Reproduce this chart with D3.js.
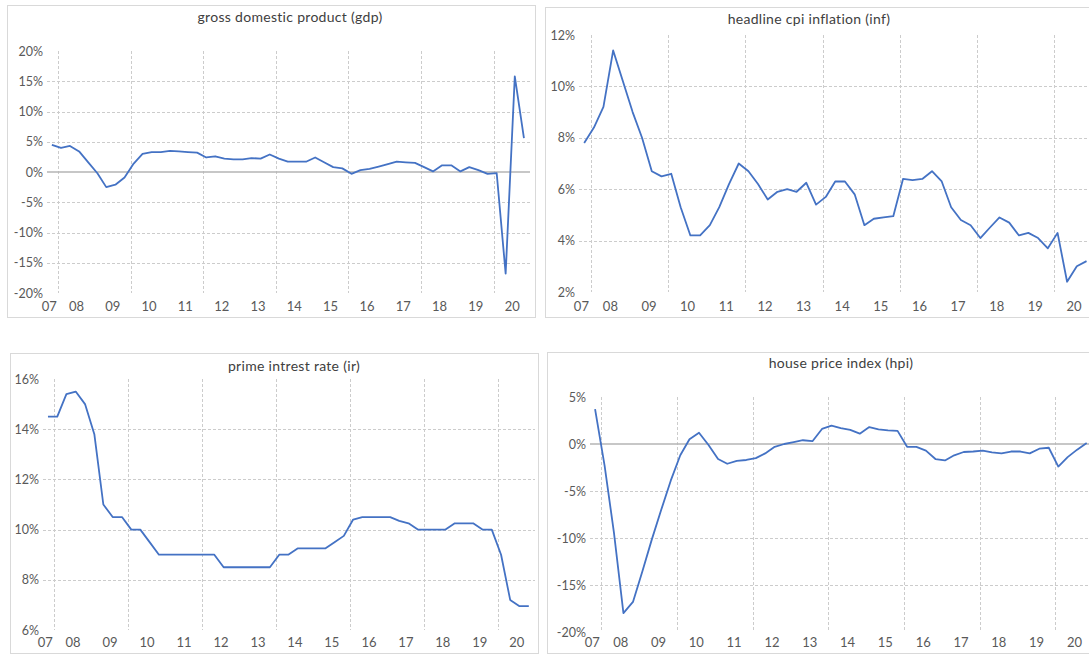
<!DOCTYPE html>
<html>
<head>
<meta charset="utf-8">
<script src="https://cdn.jsdelivr.net/npm/d3@7"></script>
<style>
  body { margin: 0; background: #fff; }
  svg { display: block; }
  text { font-family: Lato, "Open Sans", sans-serif; }
</style>
</head>
<body>
<div id="chart"></div>
<script>
// Quarterly observations (mid-quarter month)
const periods = [
  "2007-11",
  "2008-02", "2008-05", "2008-08", "2008-11",
  "2009-02", "2009-05", "2009-08", "2009-11",
  "2010-02", "2010-05", "2010-08", "2010-11",
  "2011-02", "2011-05", "2011-08", "2011-11",
  "2012-02", "2012-05", "2012-08", "2012-11",
  "2013-02", "2013-05", "2013-08", "2013-11",
  "2014-02", "2014-05", "2014-08", "2014-11",
  "2015-02", "2015-05", "2015-08", "2015-11",
  "2016-02", "2016-05", "2016-08", "2016-11",
  "2017-02", "2017-05", "2017-08", "2017-11",
  "2018-02", "2018-05", "2018-08", "2018-11",
  "2019-02", "2019-05", "2019-08", "2019-11",
  "2020-02", "2020-05", "2020-08", "2020-11"
];

// Series values, %
const gdp = [
  4.5,
  4.0, 4.3, 3.4, 1.6,
  -0.2, -2.5, -2.1, -0.9,
  1.4, 3.0, 3.3, 3.3,
  3.5, 3.4, 3.3, 3.2,
  2.4, 2.6, 2.2, 2.1,
  2.1, 2.3, 2.2, 2.9,
  2.2, 1.7, 1.7, 1.7,
  2.4, 1.6, 0.8, 0.6,
  -0.3, 0.3, 0.5, 0.9,
  1.3, 1.7, 1.6, 1.5,
  0.8, 0.1, 1.1, 1.1,
  0.1, 0.8, 0.3, -0.3,
  -0.2, -16.8, 15.8, 5.6
];

const inf = [
  7.8,
  8.4, 9.2, 11.4, 10.2,
  9.0, 8.0, 6.7, 6.5,
  6.6, 5.3, 4.2, 4.2,
  4.6, 5.3, 6.2, 7.0,
  6.7, 6.2, 5.6, 5.9,
  6.0, 5.9, 6.25, 5.4,
  5.7, 6.3, 6.3, 5.8,
  4.6, 4.85, 4.9, 4.95,
  6.4, 6.35, 6.4, 6.7,
  6.3, 5.3, 4.8, 4.6,
  4.1, 4.5, 4.9, 4.7,
  4.2, 4.3, 4.1, 3.7,
  4.3, 2.4, 3.0, 3.2
];

const ir = [
  14.5,
  14.5, 15.4, 15.5, 15.0,
  13.8, 11.0, 10.5, 10.5,
  10.0, 10.0, 9.5, 9.0,
  9.0, 9.0, 9.0, 9.0,
  9.0, 9.0, 8.5, 8.5,
  8.5, 8.5, 8.5, 8.5,
  9.0, 9.0, 9.25, 9.25,
  9.25, 9.25, 9.5, 9.75,
  10.4, 10.5, 10.5, 10.5,
  10.5, 10.35, 10.25, 10.0,
  10.0, 10.0, 10.0, 10.25,
  10.25, 10.25, 10.0, 10.0,
  9.0, 7.2, 6.95, 6.95
];

const hpi = [
  3.7,
  -2.3, -9.4, -18.0, -16.8,
  -13.5, -10.2, -7.0, -3.9,
  -1.2, 0.5, 1.2, -0.1,
  -1.6, -2.1, -1.8, -1.7,
  -1.5, -1.0, -0.3, 0.0,
  0.2, 0.4, 0.3, 1.6,
  1.95, 1.7, 1.5, 1.1,
  1.8, 1.55, 1.45, 1.4,
  -0.3, -0.3, -0.7, -1.6,
  -1.75, -1.2, -0.85, -0.8,
  -0.7, -0.9, -1.0, -0.8,
  -0.8, -1.0, -0.5, -0.4,
  -2.4, -1.4, -0.6, 0.1
];

// Axis labels
const yearLabels = ["07", "08", "09", "10", "11", "12", "13", "14", "15", "16", "17", "18", "19", "20"];
const gridYears = [2008, 2010, 2012, 2014, 2016, 2018, 2020];
const gdpTicks = [-20, -15, -10, -5, 0, 5, 10, 15, 20];
const infTicks = [2, 4, 6, 8, 10, 12];
const irTicks = [6, 8, 10, 12, 14, 16];
const hpiTicks = [-20, -15, -10, -5, 0, 5];

const parse = d3.timeParse("%Y-%m");
const dates = periods.map(parse);
const xStart = new Date(2007, 8, 13);
const xEnd = new Date(2021, 0, 1);

const svg = d3.select("#chart")
  .append("svg")
  .attr("width", 1089)
  .attr("height", 655);

// Panel layout
const panels = [
  { title: "gross domestic product (gdp)", values: gdp, ticks: gdpTicks,
    box: [7, 5, 528, 312], plot: [47, 530, 51, 293], titleAt: [290, 18], labelY: 307 },
  { title: "headline cpi inflation (inf)", values: inf, ticks: infTicks,
    box: [545, 7, 560, 310], plot: [579, 1093, 35, 292], titleAt: [809, 20], labelY: 307 },
  { title: "prime intrest rate (ir)", values: ir, ticks: irTicks,
    box: [10, 353, 528, 300], plot: [43, 535, 379, 630], titleAt: [294, 367], labelY: 643 },
  { title: "house price index (hpi)", values: hpi, ticks: hpiTicks,
    box: [547, 352, 560, 301], plot: [590, 1093, 397, 632], titleAt: [841, 364], labelY: 643 }
];

panels.forEach(drawPanel);

function drawPanel(p) {
  const [l, r, t, b] = p.plot;
  const g = svg.append("g");

  // Chart area border
  g.append("rect")
    .attr("x", p.box[0] + 0.5)
    .attr("y", p.box[1] + 0.5)
    .attr("width", p.box[2])
    .attr("height", p.box[3])
    .attr("fill", "#fff")
    .attr("stroke", "#d9d9d9")
    .attr("stroke-width", 1);

  const x = d3.scaleTime().domain([xStart, xEnd]).range([l, r]);
  const y = d3.scaleLinear()
    .domain([d3.min(p.ticks), d3.max(p.ticks)])
    .range([b, t]);

  // Horizontal grid (inner ticks only)
  g.selectAll(".hgrid")
    .data(p.ticks.filter(v => v !== d3.min(p.ticks) && v !== d3.max(p.ticks) && v !== 0))
    .enter()
    .append("line")
    .attr("x1", l)
    .attr("x2", r)
    .attr("y1", d => Math.round(y(d)) + 0.5)
    .attr("y2", d => Math.round(y(d)) + 0.5)
    .attr("stroke", "#cccccc")
    .attr("stroke-dasharray", "3,2");

  // Vertical grid every two years
  g.selectAll(".vgrid")
    .data(gridYears)
    .enter()
    .append("line")
    .attr("x1", d => Math.round(x(new Date(d, 0, 1))) + 0.5)
    .attr("x2", d => Math.round(x(new Date(d, 0, 1))) + 0.5)
    .attr("y1", t)
    .attr("y2", b)
    .attr("stroke", "#cccccc")
    .attr("stroke-dasharray", "3,2");

  // Zero line
  if (y.domain()[0] < 0) {
    g.append("line")
      .attr("x1", l)
      .attr("x2", r)
      .attr("y1", y(0))
      .attr("y2", y(0))
      .attr("stroke", "#b4b4b4")
      .attr("stroke-width", 1.5);
  }

  // Y axis labels
  const yAxis = g.append("g")
    .attr("transform", `translate(${l - 3},0)`)
    .call(d3.axisLeft(y).tickValues(p.ticks).tickSize(0).tickPadding(1).tickFormat(d => d + "%"));
  yAxis.select(".domain").remove();
  yAxis.selectAll("text")
    .attr("font-family", "Lato, sans-serif")
    .attr("font-size", "12.5px")
    .attr("fill", "#595959");

  // X axis labels (mid-year, first one inside the visible part of 2007)
  const labelDates = yearLabels.map(s => {
    const yr = 2000 + (+s);
    return yr === 2007 ? new Date(2007, 9, 1) : new Date(yr, 6, 1);
  });
  const xAxis = g.append("g")
    .attr("transform", `translate(0,${p.labelY - 5})`)
    .call(d3.axisBottom(x).tickValues(labelDates).tickSize(0).tickPadding(0)
      .tickFormat((d, i) => yearLabels[i]));
  xAxis.select(".domain").remove();
  xAxis.selectAll("text")
    .attr("font-family", "Lato, sans-serif")
    .attr("font-size", "13px")
    .attr("fill", "#595959");

  // Series line
  const line = d3.line()
    .x((d, i) => x(dates[i]))
    .y(d => y(d));

  g.append("path")
    .datum(p.values)
    .attr("fill", "none")
    .attr("stroke", "#4472c4")
    .attr("stroke-width", 1.8)
    .attr("stroke-linejoin", "round")
    .attr("d", line);

  // Title
  g.append("text")
    .attr("x", p.titleAt[0])
    .attr("y", p.titleAt[1])
    .attr("text-anchor", "middle")
    .attr("dominant-baseline", "middle")
    .attr("font-size", "14px")
    .attr("letter-spacing", "0.3px")
    .attr("fill", "#404040")
    .text(p.title);
}
</script>
</body>
</html>
